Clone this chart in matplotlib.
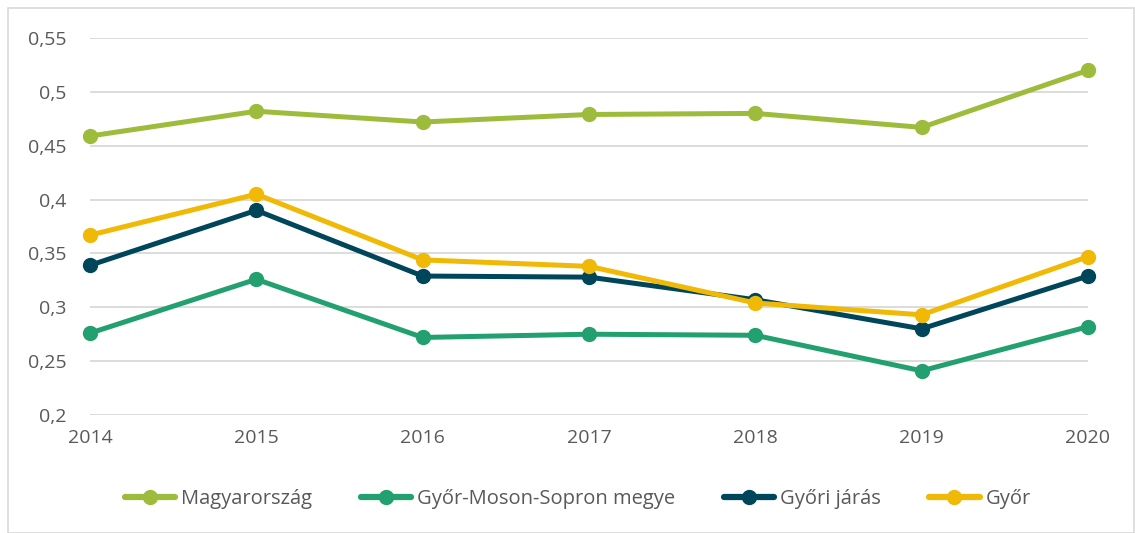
import matplotlib
matplotlib.use("Agg")
import matplotlib.pyplot as plt
from matplotlib.patches import Rectangle

years = [2014, 2015, 2016, 2017, 2018, 2019, 2020]
magyarorszag = [0.459, 0.482, 0.472, 0.479, 0.480, 0.467, 0.520]
gyms_megye = [0.276, 0.326, 0.272, 0.275, 0.274, 0.241, 0.282]
gyori_jaras = [0.339, 0.390, 0.329, 0.328, 0.307, 0.280, 0.329]
gyor = [0.367, 0.405, 0.344, 0.338, 0.304, 0.293, 0.347]

series = [
    ("Magyarország", magyarorszag, "#9EBC3C"),
    ("Győr-Moson-Sopron megye", gyms_megye, "#22A06F"),
    ("Győri járás", gyori_jaras, "#00465A"),
    ("Győr", gyor, "#F0B905"),
]
yticks = [0.2, 0.25, 0.3, 0.35, 0.4, 0.45, 0.5, 0.55]
ytick_labels = ["0,2", "0,25", "0,3", "0,35", "0,4", "0,45", "0,5", "0,55"]

plt.rcParams['font.family'] = ['Open Sans', 'DejaVu Sans']
fig = plt.figure(figsize=(11.35, 5.33), dpi=100)
W, H = 1135, 533
ax = fig.add_axes([90 / W, 1 - 415 / H, (1088 - 90) / W, (415 - 38) / H])

for name, vals, col in series:
    ax.plot(years, vals, color=col, lw=3.6, marker='o', ms=10, label=name,
            clip_on=False, solid_capstyle='round', zorder=3)

ax.set_xlim(2014, 2020)
ax.set_ylim(0.2, 0.55)
ax.set_yticks(yticks)
ax.set_yticklabels(ytick_labels)
ax.set_xticks(years)
ax.set_xticklabels([str(y) for y in years])
ax.grid(axis='y', color='#D9D9D9', lw=1.3)
ax.set_axisbelow(True)
for s in ax.spines.values():
    s.set_visible(False)
ax.tick_params(length=0, labelsize=14, labelcolor='#595959')
ax.tick_params(axis='y', pad=17)
ax.tick_params(axis='x', pad=10)

fig.patches.append(Rectangle((8 / W, 0), 1 - 8 / W - 0.001, 1 - 8 / H, transform=fig.transFigure,
                             fill=False, edgecolor='#D9D9D9', lw=1.2))

leg = fig.legend(loc='center', bbox_to_anchor=(578 / W, 1 - 499 / H), ncol=4, frameon=False,
                 fontsize=14.5, handlelength=2.5, columnspacing=2.4, handletextpad=0.3,
                 labelcolor='#595959')
for h in leg.legend_handles:
    h.set_markersize(10)
    h.set_linewidth(4.5)

fig.savefig("out.png", dpi=100)
